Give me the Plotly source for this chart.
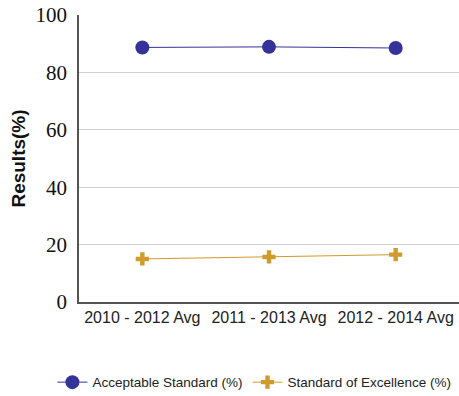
import plotly.graph_objects as go

categories = ["2010 - 2012 Avg", "2011 - 2013 Avg", "2012 - 2014 Avg"]
acceptable = [88.7, 88.9, 88.5]
excellence = [15.0, 15.7, 16.5]
y_ticks = [0, 20, 40, 60, 80, 100]

fig = go.Figure()
fig.add_trace(go.Scatter(
    x=categories, y=acceptable, mode="lines+markers",
    name="Acceptable Standard (%)",
    line=dict(color="#333399", width=1),
    marker=dict(symbol="circle", size=14, color="#333399"),
))
fig.add_trace(go.Scatter(
    x=categories, y=excellence, mode="lines+markers",
    name="Standard of Excellence (%)",
    line=dict(color="#D09A2C", width=1),
    marker=dict(symbol="cross", size=11, color="#D09A2C"),
))

fig.update_layout(
    width=459, height=396,
    margin=dict(l=79, r=0, t=15, b=94, autoexpand=False),
    paper_bgcolor="white", plot_bgcolor="white",
    showlegend=True,
    legend=dict(orientation="h", x=-0.07, xanchor="left", y=-0.28, yanchor="middle",
                font=dict(family="Liberation Sans, Arial", size=13.5, color="#222"),
                itemwidth=30, tracegroupgap=0),
    xaxis=dict(type="category", range=[-0.5, 2.5], showgrid=False, automargin=False,
               showline=True, linecolor="#555", linewidth=1.5,
               ticks="", tickfont=dict(family="Liberation Sans, Arial", size=16, color="#222")),
    yaxis=dict(range=[0, 100], tickvals=y_ticks, showgrid=True, gridcolor="#d0d0d0",
               showline=True, linecolor="#555", linewidth=1.5, zeroline=False,
               ticks="", ticklabelstandoff=6, automargin=False,
               tickfont=dict(family="Liberation Serif, Times New Roman, serif", size=21, color="#111"),
               title=dict(text="<b>Results(%)</b>", font=dict(family="Liberation Sans, Arial", size=19, color="#111"),
                          standoff=5)),
)

fig.write_html("out.html", config={"displayModeBar": False},
               post_script="document.body.style.margin='0';")
